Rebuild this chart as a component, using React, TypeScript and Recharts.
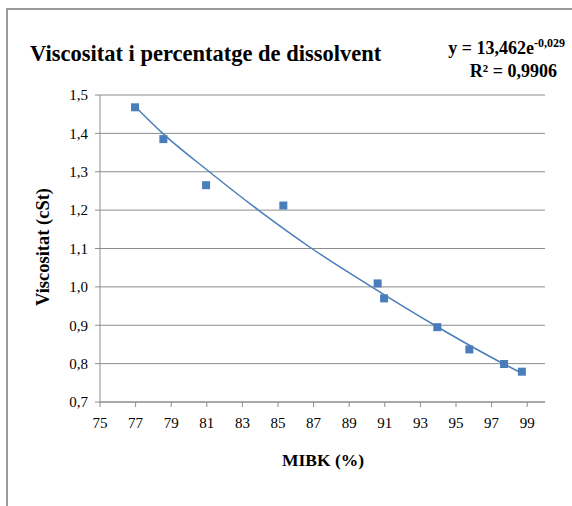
import { ComposedChart, Line, Scatter, XAxis, YAxis, CartesianGrid } from "recharts";

// measured points: MIBK (%) vs viscosity (cSt)
const mibk = [76.97, 78.56, 80.96, 85.3, 90.6, 90.96, 93.95, 95.75, 97.7, 98.7];
const viscosity = [1.468, 1.385, 1.265, 1.212, 1.009, 0.97, 0.895, 0.837, 0.799, 0.779];

// exponential trendline
const trendX = [76.97, 78.52, 81.14, 83.9, 86.9, 90.26, 93.8, 97.65, 98.7];
const trendY = [1.47, 1.4, 1.3, 1.2, 1.1, 1.0, 0.9, 0.8, 0.775];

const xTicks = [75, 77, 79, 81, 83, 85, 87, 89, 91, 93, 95, 97, 99];
const yTicks = [0.7, 0.8, 0.9, 1.0, 1.1, 1.2, 1.3, 1.4, 1.5];

const BLUE = "#4a7ebb";
const GRID = "#8c8c8c";
const FONT = '"Liberation Serif", "Times New Roman", serif';

const points = mibk.map((x, i) => ({ x, y: viscosity[i] }));
const trend = trendX.map((x, i) => ({ x, y: trendY[i] }));

const Square = (props: any) => {
  const { cx, cy } = props;
  if (cx == null || cy == null) return null;
  return <rect x={cx - 4} y={cy - 4} width={8} height={8} fill={BLUE} />;
};

export default function App() {
  return (
    <div style={{ position: "absolute", left: 0, top: 0, width: 572, height: 506, background: "#fff", overflow: "hidden", fontFamily: FONT, color: "#000" }}>
      <div style={{ position: "absolute", left: 6, top: 8, width: 700, height: 700, borderLeft: "2px solid #9a9a9a", borderTop: "2px solid #9a9a9a" }} />
      <div style={{ position: "absolute", left: 30, top: 41, fontSize: 22.5, fontWeight: "bold", whiteSpace: "nowrap" }}>
        Viscositat i percentatge de dissolvent
      </div>
      <div style={{ position: "absolute", right: 7, top: 32, fontSize: 18, fontWeight: "bold", whiteSpace: "nowrap", textAlign: "right", lineHeight: "23px" }}>
        <div>
          y = 13,462e<sup style={{ fontSize: 12, verticalAlign: "7px" }}>-0,029</sup>
        </div>
        <div style={{ paddingRight: 8 }}>R² = 0,9906</div>
      </div>
      <div style={{ position: "absolute", left: 43, top: 247, transform: "translate(-50%, -50%) rotate(-90deg)", fontSize: 18.5, fontWeight: "bold", whiteSpace: "nowrap" }}>
        Viscositat (cSt)
      </div>
      <div style={{ position: "absolute", left: 323, top: 460, transform: "translate(-50%, -50%)", fontSize: 17.5, fontWeight: "bold", whiteSpace: "nowrap" }}>
        MIBK (%)
      </div>
      <ComposedChart
        width={572}
        height={506}
        margin={{ top: 95, right: 27, left: 40, bottom: 74 }}
        style={{ position: "absolute", left: 0, top: 0 }}
      >
        <CartesianGrid vertical={false} stroke={GRID} strokeWidth={1} />
        <XAxis
          type="number"
          dataKey="x"
          domain={[75, 100]}
          ticks={xTicks}
          interval={0}
          height={30}
          stroke={GRID}
          tickSize={5}
          tickMargin={10}
          tick={{ fill: "#000", fontSize: 15, fontFamily: FONT }}
          allowDataOverflow
        />
        <YAxis
          type="number"
          dataKey="y"
          domain={[0.7, 1.5]}
          ticks={yTicks}
          interval={0}
          width={60}
          stroke={GRID}
          tickSize={5}
          tickMargin={7}
          tickFormatter={(v: number) => v.toFixed(1).replace(".", ",")}
          tick={{ fill: "#000", fontSize: 15, fontFamily: FONT }}
          allowDataOverflow
        />
        <Line
          data={trend}
          dataKey="y"
          type="monotone"
          stroke={BLUE}
          strokeWidth={1.5}
          dot={false}
          activeDot={false}
          isAnimationActive={false}
        />
        <Scatter data={points} dataKey="y" shape={Square} isAnimationActive={false} />
      </ComposedChart>
    </div>
  );
}
